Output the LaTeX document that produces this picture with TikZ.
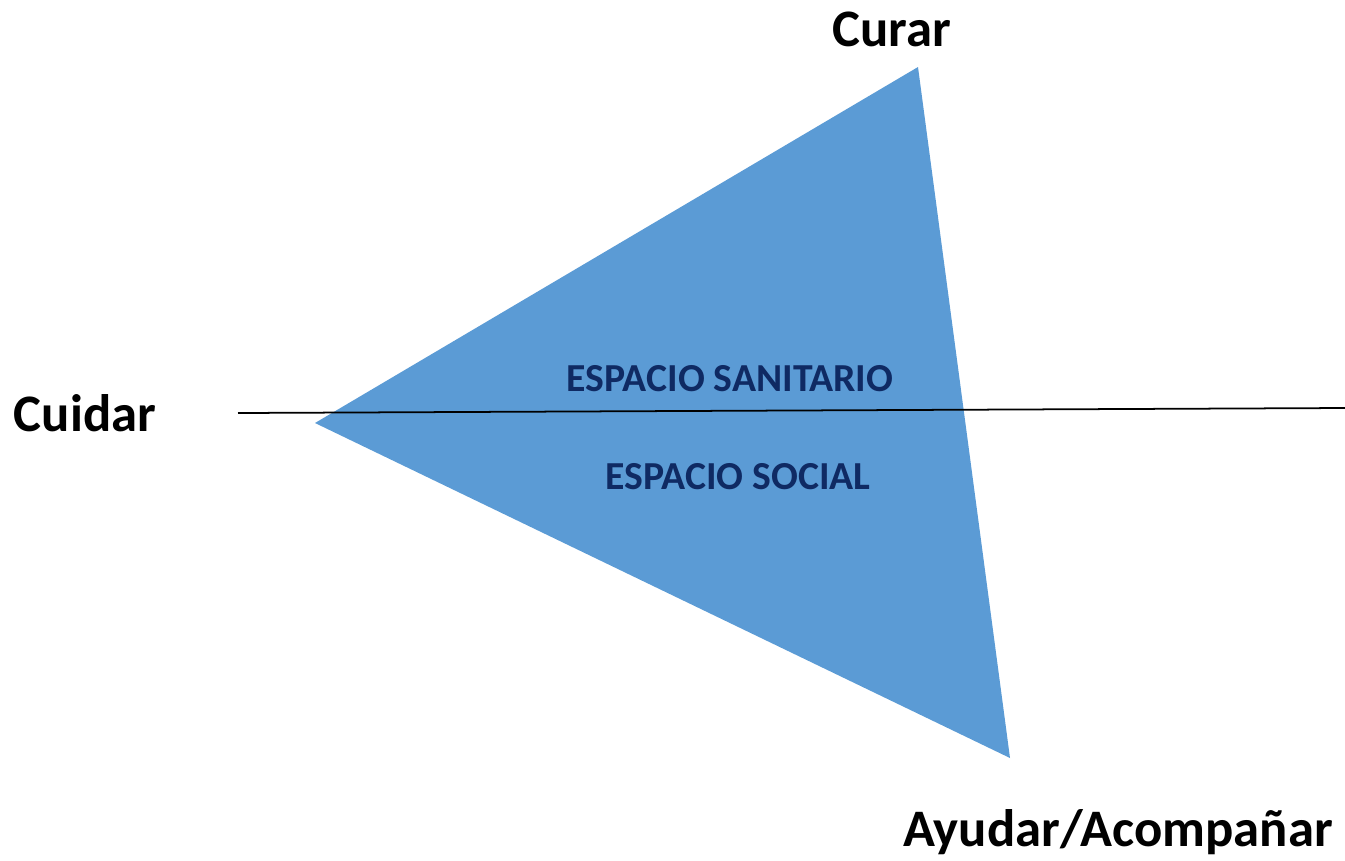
\documentclass[tikz,border=0pt]{standalone}
\usepackage{fontspec}
\setmainfont{Carlito}
\usepackage{tikz}
\usetikzlibrary{arrows,shapes}
\definecolor{espblue}{HTML}{5B9BD5}
\definecolor{espnavy}{HTML}{0F2A63}
\tikzstyle{pole}=[font=\fontsize{30}{34}\selectfont\bfseries
,text=black
,inner sep=0pt
]
\tikzstyle{space}=[font=\fontsize{22.6}{26}\selectfont\bfseries
,text=espnavy
,inner sep=0pt
]
\tikzstyle{axis} = [draw,line width=1pt,-]

\begin{document}
\begin{tikzpicture}[x=0.02cm,y=-0.02cm]
    \useasboundingbox (0,0) rectangle (1345,860);
    % The three corners of the triangle and the ends of the axis
    \coordinate (vCurar) at (918,67);
    \coordinate (vCuidar) at (315,423);
    \coordinate (vAyudar) at (1010,758);
    \coordinate (axisL) at (238,413);
    \coordinate (axisR) at (1345,408);
    \fill[espblue] (vCurar) -- (vCuidar) -- (vAyudar) -- cycle;

    % The axis
    \path[axis] (axisL) -- (axisR);

    % Labels
    \foreach \pos/\name/\txt in {{(892,29)/curar/Curar}, {(85,413)/cuidar/Cuidar}}
        \node[pole] (\name) at \pos {\txt};
    \node[pole] (ayudar) at (1118,832) {Ayudar/Acompañar};
    \node[space] (sanitario) at (730,379) {ESPACIO SANITARIO};
    \node[space] (social) at (738,477) {ESPACIO SOCIAL};
\end{tikzpicture}
\end{document}
